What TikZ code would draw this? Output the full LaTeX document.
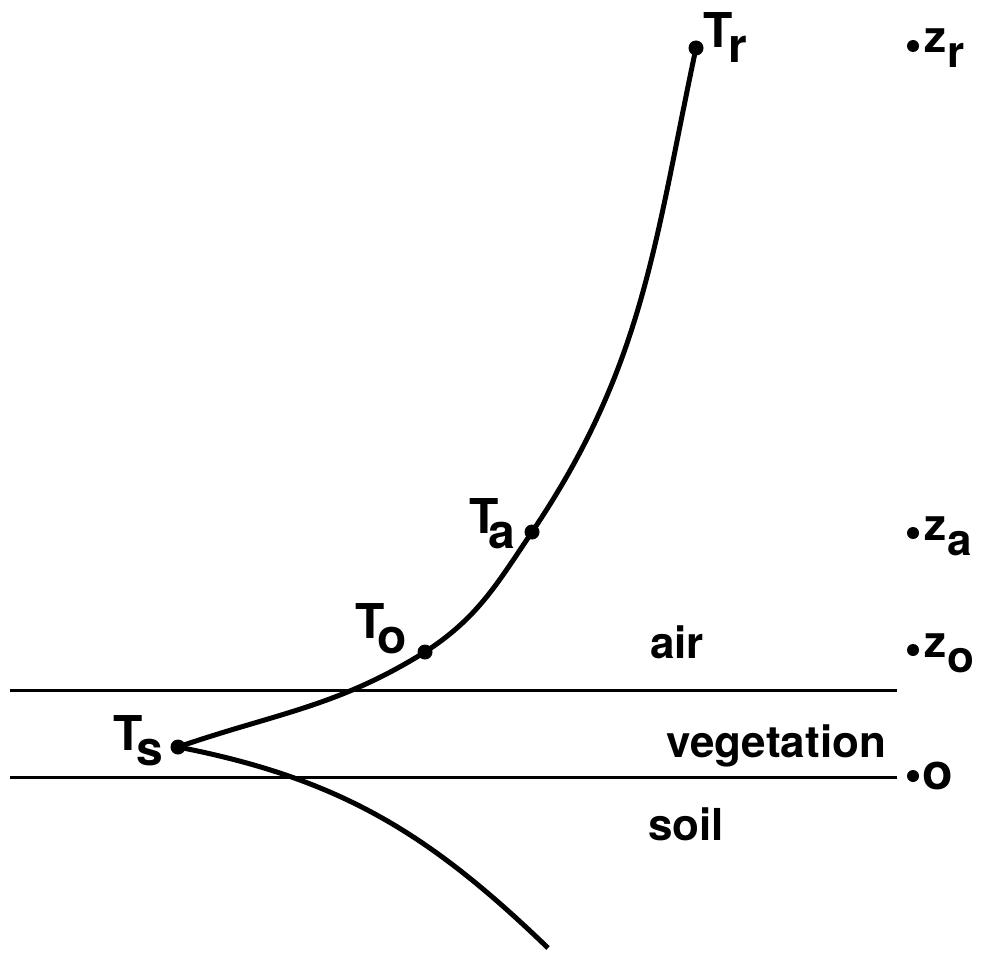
\documentclass[tikz,border=0pt]{standalone}
\usepackage{fontspec}
\setmainfont{TeX Gyre Heros}
\usetikzlibrary{positioning}
\newcommand{\sub}[3][0pt]{#2\kern#1\raisebox{-15pt}{#3}}

\begin{document}
\begin{tikzpicture}[x=1pt, y=-1pt,
    dot/.style={circle, fill, inner sep=0pt, minimum size=15pt},
    zdot/.style={circle, fill, inner sep=0pt, minimum size=12pt},
    tlab/.style={anchor=base west, inner sep=0pt, font=\fontsize{48}{52}\selectfont\bfseries},
    zlab/.style={anchor=base west, inner sep=0pt, font=\fontsize{44}{48}\selectfont\bfseries},
    layer/.style={anchor=base west, inner sep=0pt, font=\fontsize{44}{48}\selectfont\bfseries},
    profile/.style={line width=5pt},
    boundary/.style={line width=3pt}]
    \useasboundingbox (0,0) rectangle (981,957);

    % Layer boundaries
    \draw[boundary] (10,690) -- (897,690);
    \draw[boundary] (10,777) -- (897,777);

    % Layer names
    \node[layer] (air) at (650,658) {air};
    \node[layer] (veg) at (666,757) {vegetation};
    \node[layer] (soil) at (648,840) {soil};

    % Temperatures on the profile
    \node[dot] (Tr) at (696,48) {};
    \node[dot] (Ta) at (532,532) {};
    \node[dot] (To) at (425,652) {};
    \node[dot] (Ts) at (178,747) {};
    \coordinate (Tend) at (548,948);

    \node[tlab] (Trlab) at (703,48) {\sub[-4pt]{T}{r}};
    \node[tlab] (Talab) at (469,533) {\sub[-10pt]{T}{a}};
    \node[tlab] (Tolab) at (355,638) {\sub[-7pt]{T}{o}};
    \node[tlab] (Tslab) at (113,750) {\sub[-6pt]{T}{s}};

    % Profile
    \draw[profile] (Tr.center) to[out=258, in=56] (Ta.center)
      to[out=236, in=33] (To.center)
      to[out=212, in=19] (Ts.center);
    \draw[profile] (Ts.center) to[out=-11, in=136] (Tend);

    % Heights
    \foreach \n/\y in {r/46, a/533, o/650} {
      \node[zdot] (z\n) at (913,\y) {};
      \node[zlab] (z\n lab) at (924,\y+7) {\sub[1pt]{z}{\n}};
    }
    \node[zdot] (zero) at (913,776) {};
    \node[zlab, font=\fontsize{50}{52}\selectfont\bfseries] (zerolab) at (922,789) {o};
\end{tikzpicture}
\end{document}
